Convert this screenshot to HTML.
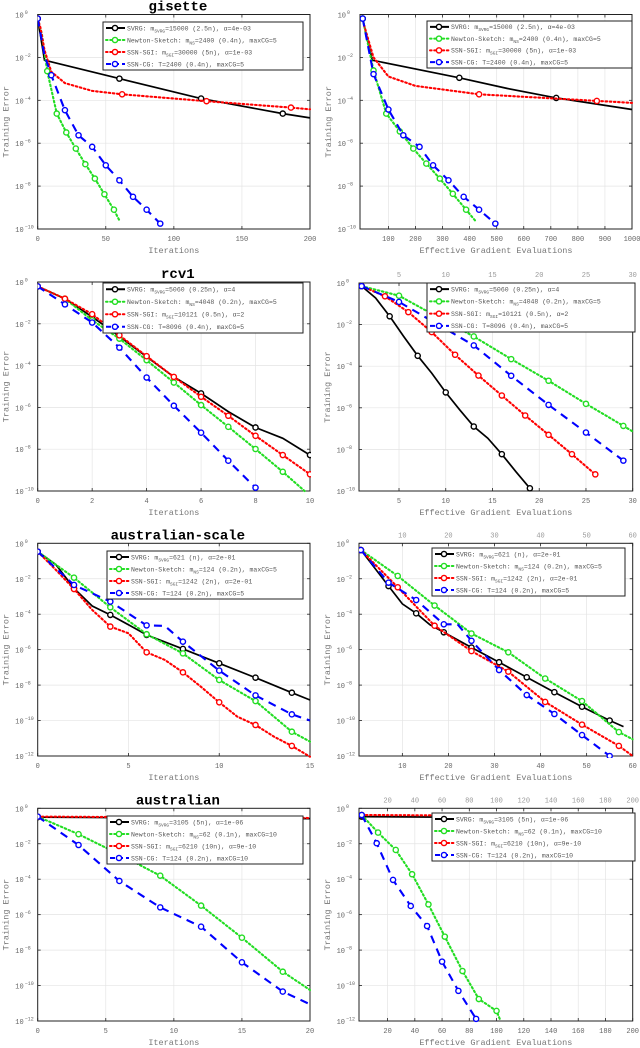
<!DOCTYPE html>
<html><head><meta charset="utf-8"><style>
html,body{margin:0;padding:0;background:#fff;width:640px;height:1048px;overflow:hidden}
svg{display:block}
text{font-family:"Liberation Mono",monospace}
</style></head><body>
<svg id="fig" width="640" height="1048" viewBox="0 0 640 1048" xmlns="http://www.w3.org/2000/svg"></svg>
<script>
// ---- data (x values, log10 of training error) ----
const gisItSvrgX=[0,5,60,120,180,200], gisItSvrgY=[-0.19,-2.13,-2.99,-3.92,-4.62,-4.82], gisItSvrgM=[0,60,120,180];
const gisItNsX=[0,3,7,14,21,28,35,42,49,56,60], gisItNsY=[-0.19,-0.89,-2.64,-4.62,-5.5,-6.25,-6.98,-7.65,-8.38,-9.1,-9.6], gisItNsM=[0,7,14,21,28,35,42,49,56];
const gisItSgiX=[0,2,5,10,20,40,62,124,186,200], gisItSgiY=[-0.19,-0.6,-1.66,-2.67,-3.2,-3.56,-3.72,-4.04,-4.34,-4.42], gisItSgiM=[0,62,124,186];
const gisItCgX=[0,5,10,20,30,40,50,60,70,80,90], gisItCgY=[-0.19,-1.9,-2.83,-4.46,-5.63,-6.17,-7.03,-7.73,-8.5,-9.1,-9.75], gisItCgM=[0,10,20,30,40,50,60,70,80,90];
const gisEgSvrgX=[5,40,362,540,720,1000], gisEgSvrgY=[-0.19,-2.13,-2.95,-3.45,-3.89,-4.43], gisEgSvrgM=[5,362,720];
const gisEgNsX=[5,45,92,142,192,240,290,338,387,420], gisEgNsY=[-0.19,-2.61,-4.62,-5.45,-6.25,-6.95,-7.65,-8.36,-9.1,-9.6], gisEgNsM=[5,45,92,142,192,240,290,338,387];
const gisEgSgiX=[10,45,100,200,435,720,870,1000], gisEgSgiY=[-0.5,-2.0,-2.89,-3.33,-3.72,-3.92,-4.03,-4.12], gisEgSgiM=[435,870];
const gisEgCgX=[5,45,100,155,215,265,322,378,435,495], gisEgCgY=[-0.19,-2.78,-4.43,-5.63,-6.17,-7.03,-7.73,-8.5,-9.1,-9.75], gisEgCgM=null;

const rcvItSvrgX=[0,1,2,3,4,5,6,7,8,9,10], rcvItSvrgY=[-0.21,-0.8,-1.67,-2.6,-3.58,-4.54,-5.33,-6.2,-6.96,-7.48,-8.28], rcvItSvrgM=[0,2,4,6,8,10];
const rcvItNsX=[0,1,2,3,4,5,6,7,8,9,9.8], rcvItNsY=[-0.21,-0.8,-1.83,-2.71,-3.74,-4.81,-5.89,-6.93,-7.99,-9.08,-10], rcvItNsM=[0,1,2,3,4,5,6,7,8,9];
const rcvItSgiX=[0,1,2,3,4,5,6,7,8,9,10], rcvItSgiY=[-0.21,-0.8,-1.54,-2.55,-3.55,-4.54,-5.49,-6.4,-7.36,-8.28,-9.2], rcvItSgiM=null;
const rcvItCgX=[0,1,2,3,4,5,6,7,8], rcvItCgY=[-0.21,-1.07,-1.94,-3.14,-4.57,-5.92,-7.21,-8.55,-9.84], rcvItCgM=null;
const rcvEgSvrgX=[1,2.5,4,5.5,7,8.5,10,11.5,13,14.5,16,17.5,19], rcvEgSvrgY=[-0.15,-0.72,-1.6,-2.57,-3.5,-4.33,-5.26,-6.1,-6.9,-7.46,-8.23,-9.07,-9.87], rcvEgSvrgM=[1,4,7,10,13,16,19];
const rcvEgNsX=[1,5,9,13,17,21,25,29,30], rcvEgNsY=[-0.15,-0.61,-1.6,-2.57,-3.66,-4.7,-5.81,-6.87,-7.14], rcvEgNsM=[1,5,9,13,17,21,25,29];
const rcvEgSgiX=[1,3.5,6,8.5,11,13.5,16,18.5,21,23.5,26], rcvEgSgiY=[-0.15,-0.64,-1.4,-2.36,-3.45,-4.45,-5.41,-6.37,-7.3,-8.23,-9.2], rcvEgSgiM=null;
const rcvEgCgX=[1,5,9,13,17,21,25,29], rcvEgCgY=[-0.15,-0.91,-1.95,-3.0,-4.46,-5.86,-7.19,-8.54], rcvEgCgM=null;

const ausItSvrgX=[0,1,2,3,4,5,6,8,10,12,14,15], ausItSvrgY=[-0.47,-1.2,-2.54,-3.54,-4.04,-4.6,-5.17,-5.96,-6.77,-7.58,-8.43,-8.84], ausItSvrgM=[0,2,4,6,8,10,12,14];
const ausItNsX=[0,2,4,6,8,10,12,14,15], ausItNsY=[-0.47,-1.94,-3.61,-5.13,-6.21,-7.71,-8.9,-10.63,-11.19], ausItNsM=[0,2,4,6,8,10,12,14];
const ausItSgiX=[0,1,2,3,4,5,6,7,8,9,10,11,12,13,14,15], ausItSgiY=[-0.47,-1.5,-2.58,-3.76,-4.7,-5.08,-6.15,-6.58,-7.28,-8.1,-8.97,-9.78,-10.25,-10.9,-11.43,-12.04], ausItSgiM=[0,2,4,6,8,10,12,14];
const ausItCgX=[0,2,4,6,7,8,10,12,14,15], ausItCgY=[-0.47,-2.35,-3.29,-4.63,-4.66,-5.55,-7.18,-8.58,-9.65,-10.0], ausItCgM=[0,2,4,6,8,10,12,14];
const ausEgSvrgX=[1,7,10,13,16,19,25,31,37,43,49,55,58], ausEgSvrgY=[-0.38,-2.41,-3.42,-3.95,-4.6,-5.02,-5.88,-6.71,-7.56,-8.4,-9.22,-10.0,-10.34], ausEgSvrgM=[1,7,13,19,25,31,37,43,49,55];
const ausEgNsX=[1,9,17,25,33,41,49,57,60], ausEgNsY=[-0.38,-1.84,-3.51,-5.09,-6.15,-7.63,-8.9,-10.65,-11.06], ausEgNsM=[1,9,17,25,33,41,49,57];
const ausEgSgiX=[1,9,17,25,33,41,49,57,60], ausEgSgiY=[-0.38,-2.48,-4.65,-6.08,-7.24,-8.95,-10.23,-11.43,-12], ausEgSgiM=[1,9,17,25,33,41,49,57];
const ausEgCgX=[1,7,13,19,22,25,31,37,43,49,55], ausEgCgY=[-0.38,-2.22,-3.2,-4.57,-4.57,-5.5,-7.15,-8.56,-9.63,-10.82,-12], ausEgCgM=[1,7,13,19,25,31,37,43,49,55];

const ausrItSvrgX=[0,20], ausrItSvrgY=[-0.5,-0.58], ausrItSvrgM=[0];
const ausrItNsX=[0,3,6,9,12,15,18,20], ausrItNsY=[-0.47,-1.46,-2.6,-3.8,-5.49,-7.3,-9.22,-10.25], ausrItNsM=[0,3,6,9,12,15,18];
const ausrItSgiX=[0,20], ausrItSgiY=[-0.47,-0.55], ausrItSgiM=[0];
const ausrItCgX=[0,3,6,9,12,15,18,20], ausrItCgY=[-0.47,-2.07,-4.1,-5.59,-6.68,-8.69,-10.34,-11.06], ausrItCgM=[0,3,6,9,12,15,18];
const ausrEgSvrgX=[1,200], ausrEgSvrgY=[-0.47,-0.56], ausrEgSvrgM=[1];
const ausrEgNsX=[1,13,26,38,50,62,75,87,100,103], ausrEgNsY=[-0.38,-1.37,-2.35,-3.72,-5.42,-7.24,-9.18,-10.76,-11.43,-12], ausrEgNsM=[1,13,26,38,50,62,75,87,100];
const ausrEgSgiX=[1,200], ausrEgSgiY=[-0.38,-0.45], ausrEgSgiM=[1];
const ausrEgCgX=[1,12,24,37,49,60,72,85], ausrEgCgY=[-0.38,-1.97,-4.04,-5.51,-6.64,-8.65,-10.3,-11.88], ausrEgCgM=null;

const ticksGisIt=[0,50,100,150,200], ticksGisEg=[100,200,300,400,500,600,700,800,900,1000];
const ticksRcvIt=[0,2,4,6,8,10], ticksRcvEg=[5,10,15,20,25,30];
const ticksAusIt=[0,5,10,15], ticksAusEg=[10,20,30,40,50,60];
const ticksAusrIt=[0,5,10,15,20], ticksAusrEg=[20,40,60,80,100,120,140,160,180,200];

const legGis=[["SVRG: m","SVRG","=15000 (2.5n), α=4e-03"],["Newton-Sketch: m","NS","=2400 (0.4n), maxCG=5"],["SSN-SGI: m","SGI","=30000 (5n), α=1e-03"],["SSN-CG: T=2400 (0.4n), maxCG=5","",""]];
const legRcv=[["SVRG: m","SVRG","=5060 (0.25n), α=4"],["Newton-Sketch: m","NS","=4048 (0.2n), maxCG=5"],["SSN-SGI: m","SGI","=10121 (0.5n), α=2"],["SSN-CG: T=8096 (0.4n), maxCG=5","",""]];
const legAus=[["SVRG: m","SVRG","=621 (n), α=2e-01"],["Newton-Sketch: m","NS","=124 (0.2n), maxCG=5"],["SSN-SGI: m","SGI","=1242 (2n), α=2e-01"],["SSN-CG: T=124 (0.2n), maxCG=5","",""]];
const legAusr=[["SVRG: m","SVRG","=3105 (5n), α=1e-06"],["Newton-Sketch: m","NS","=62 (0.1n), maxCG=10"],["SSN-SGI: m","SGI","=6210 (10n), α=9e-10"],["SSN-CG: T=124 (0.2n), maxCG=10","",""]];

const STY=[{c:"#000",d:"",w:1.7,n:"svrg"},{c:"#22dd22",d:"1.6 2.6",w:2.1,n:"newton-sketch"},{c:"#ff0000",d:"1.6 2.6",w:2.1,n:"ssn-sgi"},{c:"#0000ff",d:"8 6",w:2.1,n:"ssn-cg"}];
const NS="http://www.w3.org/2000/svg";
const svg=document.getElementById('fig');
function el(t,a,p){const e=document.createElementNS(NS,t);for(const k in a)e.setAttribute(k,a[k]);(p||svg).appendChild(e);return e;}

const panels=[
 {id:"gisette-iterations",title:"gisette",xl:"Iterations",x0:37.7,x1:310,yt:14.5,yb:229,xmin:0,xmax:200,dec:10,ticks:ticksGisIt,top:false,leg:legGis,lb:[103,22,200,48],
  s:[[gisItSvrgX,gisItSvrgY,gisItSvrgM],[gisItNsX,gisItNsY,gisItNsM],[gisItSgiX,gisItSgiY,gisItSgiM],[gisItCgX,gisItCgY,gisItCgM]]},
 {id:"gisette-gradients",xl:"Effective Gradient Evaluations",x0:360,x1:632,yt:14.5,yb:229,xmin:-5,xmax:1000,dec:10,ticks:ticksGisEg,top:false,leg:legGis,lb:[427,21,205,47],
  s:[[gisEgSvrgX,gisEgSvrgY,gisEgSvrgM],[gisEgNsX,gisEgNsY,gisEgNsM],[gisEgSgiX,gisEgSgiY,gisEgSgiM],[gisEgCgX,gisEgCgY,gisEgCgM]]},
 {id:"rcv1-iterations",title:"rcv1",xl:"Iterations",x0:37.7,x1:310,yt:282,yb:491,xmin:0,xmax:10,dec:10,ticks:ticksRcvIt,top:false,leg:legRcv,lb:[103,283,200,50],
  s:[[rcvItSvrgX,rcvItSvrgY,rcvItSvrgM],[rcvItNsX,rcvItNsY,rcvItNsM],[rcvItSgiX,rcvItSgiY,rcvItSgiM],[rcvItCgX,rcvItCgY,rcvItCgM]]},
 {id:"rcv1-gradients",xl:"Effective Gradient Evaluations",x0:359,x1:632.7,yt:283,yb:491,xmin:0.72,xmax:30,dec:10,ticks:ticksRcvEg,top:true,leg:legRcv,lb:[427,283,208,49],
  s:[[rcvEgSvrgX,rcvEgSvrgY,rcvEgSvrgM],[rcvEgNsX,rcvEgNsY,rcvEgNsM],[rcvEgSgiX,rcvEgSgiY,rcvEgSgiM],[rcvEgCgX,rcvEgCgY,rcvEgCgM]]},
 {id:"australian-scale-iterations",title:"australian-scale",xl:"Iterations",x0:37.7,x1:310,yt:543.3,yb:756,xmin:0,xmax:15,dec:12,ticks:ticksAusIt,top:false,leg:legAus,lb:[107,551,196,48],
  s:[[ausItSvrgX,ausItSvrgY,ausItSvrgM],[ausItNsX,ausItNsY,ausItNsM],[ausItSgiX,ausItSgiY,ausItSgiM],[ausItCgX,ausItCgY,ausItCgM]]},
 {id:"australian-scale-gradients",xl:"Effective Gradient Evaluations",x0:359,x1:632.7,yt:543.3,yb:756,xmin:0.59,xmax:60,dec:12,ticks:ticksAusEg,top:true,leg:legAus,lb:[432,548,193,48],
  s:[[ausEgSvrgX,ausEgSvrgY,ausEgSvrgM],[ausEgNsX,ausEgNsY,ausEgNsM],[ausEgSgiX,ausEgSgiY,ausEgSgiM],[ausEgCgX,ausEgCgY,ausEgCgM]]},
 {id:"australian-iterations",title:"australian",xl:"Iterations",x0:37.7,x1:310,yt:808.3,yb:1021,xmin:0,xmax:20,dec:12,ticks:ticksAusrIt,top:false,leg:legAusr,lb:[107,816,196,48],
  s:[[ausrItSvrgX,ausrItSvrgY,ausrItSvrgM],[ausrItNsX,ausrItNsY,ausrItNsM],[ausrItSgiX,ausrItSgiY,ausrItSgiM],[ausrItCgX,ausrItCgY,ausrItCgM]]},
 {id:"australian-gradients",xl:"Effective Gradient Evaluations",x0:359,x1:632.7,yt:808.3,yb:1021,xmin:-1,xmax:200,dec:12,ticks:ticksAusrEg,top:true,leg:legAusr,lb:[432,813,203,48],
  s:[[ausrEgSvrgX,ausrEgSvrgY,ausrEgSvrgM],[ausrEgNsX,ausrEgNsY,ausrEgNsM],[ausrEgSgiX,ausrEgSgiY,ausrEgSgiM],[ausrEgCgX,ausrEgCgY,ausrEgCgM]]}
];

panels.forEach(p=>{
 const g=el('g',{});
 
 
 const sx=v=>p.x0+(v-p.xmin)/(p.xmax-p.xmin)*(p.x1-p.x0);
 const sy=e=>p.yt+(-e)/p.dec*(p.yb-p.yt);
 const grid=el('g',{stroke:"#e4e4e4","stroke-width":0.7},g);
 
 
 p.ticks.forEach(t=>{const X=sx(t);el('line',{x1:X,x2:X,y1:p.yt,y2:p.yb},grid);});
 for(let e=0;e>=-p.dec;e-=2){const Y=sy(e);el('line',{x1:p.x0,x2:p.x1,y1:Y,y2:Y},grid);}
 const ax=el('g',{},g);
 
 
 p.ticks.forEach(t=>{const X=sx(t);
  el('line',{x1:X,x2:X,y1:p.yb,y2:p.yb-3,stroke:"#222","stroke-width":0.8},ax);
  el('line',{x1:X,x2:X,y1:p.yt,y2:p.yt+3,stroke:"#222","stroke-width":0.8},ax);
  const tl=el('text',{x:X,y:p.yb+12,"font-size":7,fill:"#666","text-anchor":"middle"},ax);tl.textContent=t;
  
  
  if(p.top){const tt=el('text',{x:X,y:p.yt-6,"font-size":7,fill:"#999","text-anchor":"middle"},ax);tt.textContent=t;
   
   }
 });
 for(let e=0;e>=-p.dec;e-=2){const Y=sy(e);
  el('line',{x1:p.x0,x2:p.x0+3,y1:Y,y2:Y,stroke:"#222","stroke-width":0.8},ax);
  el('line',{x1:p.x1,x2:p.x1-3,y1:Y,y2:Y,stroke:"#222","stroke-width":0.8},ax);
  const tl=el('text',{x:p.x0-14,y:Y+3,"font-size":7,fill:"#666","text-anchor":"end"},ax);
  
  
  tl.textContent="10";
  const sp=el('text',{x:p.x0-13,y:Y-0.5,"font-size":5,fill:"#666"},ax);sp.textContent=String(e).replace('-','−');
 }
 el('rect',{x:p.x0,y:p.yt,width:p.x1-p.x0,height:p.yb-p.yt,fill:"none",stroke:"#222","stroke-width":1},ax);
 const xl=el('text',{x:(p.x0+p.x1)/2,y:p.yb+24,"font-size":8.5,fill:"#777","text-anchor":"middle"},g);xl.textContent=p.xl;
 
 
 const yx=p.x0-29,yy=(p.yt+p.yb)/2;
 const yl=el('text',{x:yx,y:yy,"font-size":8.5,fill:"#777","text-anchor":"middle",transform:`rotate(-90 ${yx} ${yy})`},g);yl.textContent="Training Error";
 
 
 if(p.title){const t=el('text',{x:(p.x0+p.x1)/2+4,y:p.yt-4,"font-size":14,"font-weight":"bold",fill:"#000","text-anchor":"middle"},g);t.textContent=p.title;
  
  }
 const clip='c'+p.id;const cp=el('clipPath',{id:clip},g);el('rect',{x:p.x0,y:p.yt-4,width:p.x1-p.x0+1,height:p.yb-p.yt+6},cp);
 p.s.forEach((s,i)=>{const st=STY[i];
  const sg=el('g',{"clip-path":`url(#${clip})`},g);
  
  
  const pts=s[0].map((x,k)=>sx(x).toFixed(1)+','+sy(s[1][k]).toFixed(1)).join(' ');
  el('polyline',{points:pts,fill:"none",stroke:st.c,"stroke-width":st.w,"stroke-dasharray":st.d,"stroke-linecap":st.d&&i<3?"round":"butt"},sg);
  s[0].forEach((x,k)=>{ if(s[2]&&s[2].indexOf(x)<0)return;
   const m=el('circle',{cx:sx(x),cy:sy(s[1][k]),r:2.6,fill:"#fff",stroke:st.c,"stroke-width":1.4},sg);
   
   
  });
 });
 const [lx,ly,lw,lh]=p.lb;
 const lg=el('g',{},g);
 
 
 el('rect',{x:lx,y:ly,width:lw,height:lh,fill:"#fff",stroke:"#222","stroke-width":1},lg);
 p.leg.forEach((L,i)=>{const st=STY[i];const Y=ly+lh*(i+0.5)/4;
  const e=el('g',{},lg);
  
  
  el('line',{x1:lx+3,x2:lx+22,y1:Y,y2:Y,stroke:st.c,"stroke-width":2,"stroke-dasharray":i===3?"5 3":st.d,"stroke-linecap":i===1||i===2?"round":"butt"},e);
  el('circle',{cx:lx+12,cy:Y,r:2.6,fill:"#fff",stroke:st.c,"stroke-width":1.4},e);
  const t=el('text',{x:lx+24,y:Y+2.3,"font-size":6.5,fill:"#555"},e);
  const a=el('tspan',{},t);a.textContent=L[0];
  if(L[1]){const b=el('tspan',{"font-size":4.5,dy:2},t);b.textContent=L[1];const c=el('tspan',{dy:-2},t);c.textContent=L[2];}
 });
});
</script>
</body></html>
